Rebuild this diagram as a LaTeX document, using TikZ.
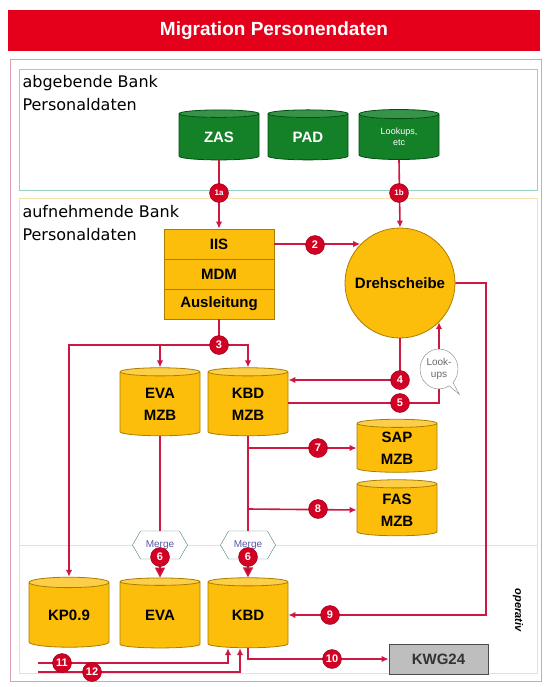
\documentclass[tikz,border=0pt]{standalone}
\usepackage{fontspec}
\setmainfont{Liberation Sans}
\newfontfamily\grpfont{DejaVu Sans}
\usetikzlibrary{arrows.meta,shapes.geometric,shapes.symbols,shapes.callouts,calc}
\definecolor{titlered}{RGB}{228,0,27}
\definecolor{flowred}{RGB}{205,25,65}
\definecolor{numred}{RGB}{210,0,35}
\definecolor{ylw}{RGB}{252,190,10}
\definecolor{ylwdark}{RGB}{170,125,0}
\definecolor{grn}{RGB}{20,128,40}
\definecolor{grndark}{RGB}{0,80,20}
\definecolor{tealframe}{RGB}{150,210,195}
\definecolor{ylwframe}{RGB}{245,225,170}
\definecolor{pinkframe}{RGB}{220,160,175}
\definecolor{kwggray}{RGB}{190,190,190}

\tikzset{
  flow/.style={draw=flowred,line width=1.6pt},
  arr/.style={-{Latex[length=7pt,width=6.5pt]}},
  pinarr/.style={-{Triangle[length=10pt,width=10pt,fill=numred]}},
  num/.style={circle,fill=numred,draw=numred!70!black,text=white,
    font=\bfseries\fontsize{11}{11}\selectfont,inner sep=0pt,minimum size=19pt},
  db/.style={cylinder,shape border rotate=90,aspect=0.25,draw=ylwdark,line width=0.8pt,
    cylinder uses custom fill,cylinder body fill=ylw,cylinder end fill=ylw!75!white,
    font=\bfseries\fontsize{15}{22}\selectfont,align=center,minimum width=80pt,inner sep=0pt},
  srcdb/.style={db,draw=grndark,cylinder body fill=grn,cylinder end fill=grn!85!white,
    text=white,minimum height=50pt},
  layer/.style={draw=ylwdark,fill=ylw,line width=0.8pt,minimum width=110pt,minimum height=30pt,
    font=\bfseries\fontsize{15}{17}\selectfont,inner sep=0pt},
  merge/.style={signal,signal to=east and west,signal pointer angle=120,draw=teal!40!gray,
    fill=white,minimum width=55pt,minimum height=28pt,inner sep=0pt,
    font=\fontsize{10}{10}\selectfont,text=blue!30!gray},
  grp/.style={anchor=north west,align=left,font=\grpfont\fontsize{16}{23}\selectfont}
}

\begin{document}
\begin{tikzpicture}[x=1pt,y=-1pt]
  \useasboundingbox (0,0) rectangle (544,687);
  % frames
  \draw[pinkframe,line width=1pt] (10,60) rectangle (541,681);
  \draw[tealframe,line width=1pt] (19,70) rectangle (537,190);
  \draw[ylwframe,line width=1pt] (19,198) rectangle (537,545);
  \draw[ylwframe,line width=1pt] (19,545) rectangle (537,673);
  \node[fill=titlered,minimum width=532pt,minimum height=41pt,text=white,
    font=\bfseries\fontsize{19}{21}\selectfont] (title) at (274,30.5) {Migration Personendaten};
  \node[grp] (abg) at (19,72) {abgebende Bank\\Personaldaten};
  \node[grp] (aufn) at (19,202) {aufnehmende Bank\\Personaldaten};

  % sources
  \node[srcdb] (zas) at (219,137) {ZAS};
  \node[srcdb] (pad) at (308,137) {PAD};
  \node[srcdb,font=\fontsize{9}{11}\selectfont] (lkp) at (399,137) {Lookups,\\etc};

  % target side
  \node[layer] (iis) at (219,244) {IIS};
  \node[layer] (mdm) at (219,274) {MDM};
  \node[layer] (aus) at (219,304) {Ausleitung};
  \node[circle,draw=ylwdark,fill=ylw,line width=0.8pt,minimum size=110pt,inner sep=0pt,
    font=\bfseries\fontsize{15}{17}\selectfont] (dreh) at (400,283) {Drehscheibe};
  \node[db,minimum height=68pt] (evamzb) at (160,404) {EVA\\MZB};
  \node[db,minimum height=68pt] (kbdmzb) at (248,404) {KBD\\MZB};
  \node[db,minimum height=53pt] (sap) at (397,448) {SAP\\MZB};
  \node[db,minimum height=56pt] (fas) at (397,510) {FAS\\MZB};
  \node[ellipse callout,callout relative pointer={(8pt,-10pt)},draw=gray,fill=white,
    minimum width=38pt,minimum height=40pt,inner sep=0pt,align=center,
    font=\fontsize{10}{12}\selectfont,text=gray!80!black] (look) at (439,369) {Look-\\ups};
  \node[merge] (mg1) at (160,545) {Merge};
  \node[merge] (mg2) at (248,545) {Merge};
  \node[db,minimum height=70pt] (kp) at (69,615) {KP0.9};
  \node[db,minimum height=70pt] (eva) at (160,615) {EVA};
  \node[db,minimum height=70pt] (kbd) at (248,615) {KBD};
  \node[draw=gray!60!black,fill=kwggray,line width=0.8pt,minimum width=99pt,minimum height=30pt,
    font=\bfseries\fontsize{15}{17}\selectfont,text=black!80] (kwg) at (438.5,659) {KWG24};
  \node[rotate=-90,font=\bfseries\itshape\fontsize{11}{11}\selectfont] (op) at (518,610) {operativ};

  \coordinate (j3) at (219,345);
  \coordinate (c4) at (400,380);
  \coordinate (c5) at (400,403);
  \coordinate (c7) at (318,448);
  \coordinate (c8) at (318,509);
  \coordinate (c9) at (486,615);
  \coordinate (s11) at (38,663);
  \coordinate (s12) at (38,672);

  % flows
  \draw[flow,arr] (zas.south) -- (iis.north);
  \draw[flow,arr] (lkp.south) -- (dreh.north);
  \draw[flow,arr] (iis.east) -- (iis.east -| dreh.136);
  \draw[flow] (aus.south) -- (j3);
  \draw[flow,arr] (j3) -| (kbdmzb.north);
  \draw[flow,arr] (j3) -| (kp.north);
  \draw[flow,arr] (evamzb.north |- j3) -- (evamzb.north);
  \draw[flow,arr] (dreh.south) -- (c4) -- (c4 -| kbdmzb.east);
  \draw[flow] (c5 -| kbdmzb.east) -| (look.south);
  \draw[flow,arr] (look.north) -- (look.north |- dreh.-45);
  \draw[flow,arr] (dreh.east) -| (c9) -- (kbd.east);
  \draw[flow] (evamzb.south) -- (mg1.north);
  \draw[flow] (kbdmzb.south) -- (mg2.north);
  \draw[flow,arr] (kbdmzb.south |- c7) -- (sap.west);
  \draw[flow,arr] (kbdmzb.south |- c8) -- (fas.west);
  \draw[flow,pinarr] (mg1.south) -- (eva.north);
  \draw[flow,pinarr] (mg2.south) -- (kbd.north);
  \draw[flow,arr] (kbd.south) |- (kwg.west);
  \draw[flow,arr] (s11) -| ([xshift=-20pt]kbd.south);
  \draw[flow,arr] (s12) -| ([xshift=-8pt]kbd.south);

  % step numbers
  \node[num,font=\bfseries\fontsize{8}{8}\selectfont] (n1a) at (219,193) {1a};
  \node[num,font=\bfseries\fontsize{8}{8}\selectfont] (n1b) at (399,193) {1b};
  \foreach \nm/\t/\x/\y in {n2/2/315/245, n3/3/219/345, n4/4/400/380, n5/5/400/403,
      n6a/6/160/557, n6b/6/248/557, n7/7/318/448, n8/8/318/509, n9/9/330/615,
      n10/10/332/659, n11/11/62/663, n12/12/92/672}
    \node[num] (\nm) at (\x,\y) {\t};
\end{tikzpicture}
\end{document}
